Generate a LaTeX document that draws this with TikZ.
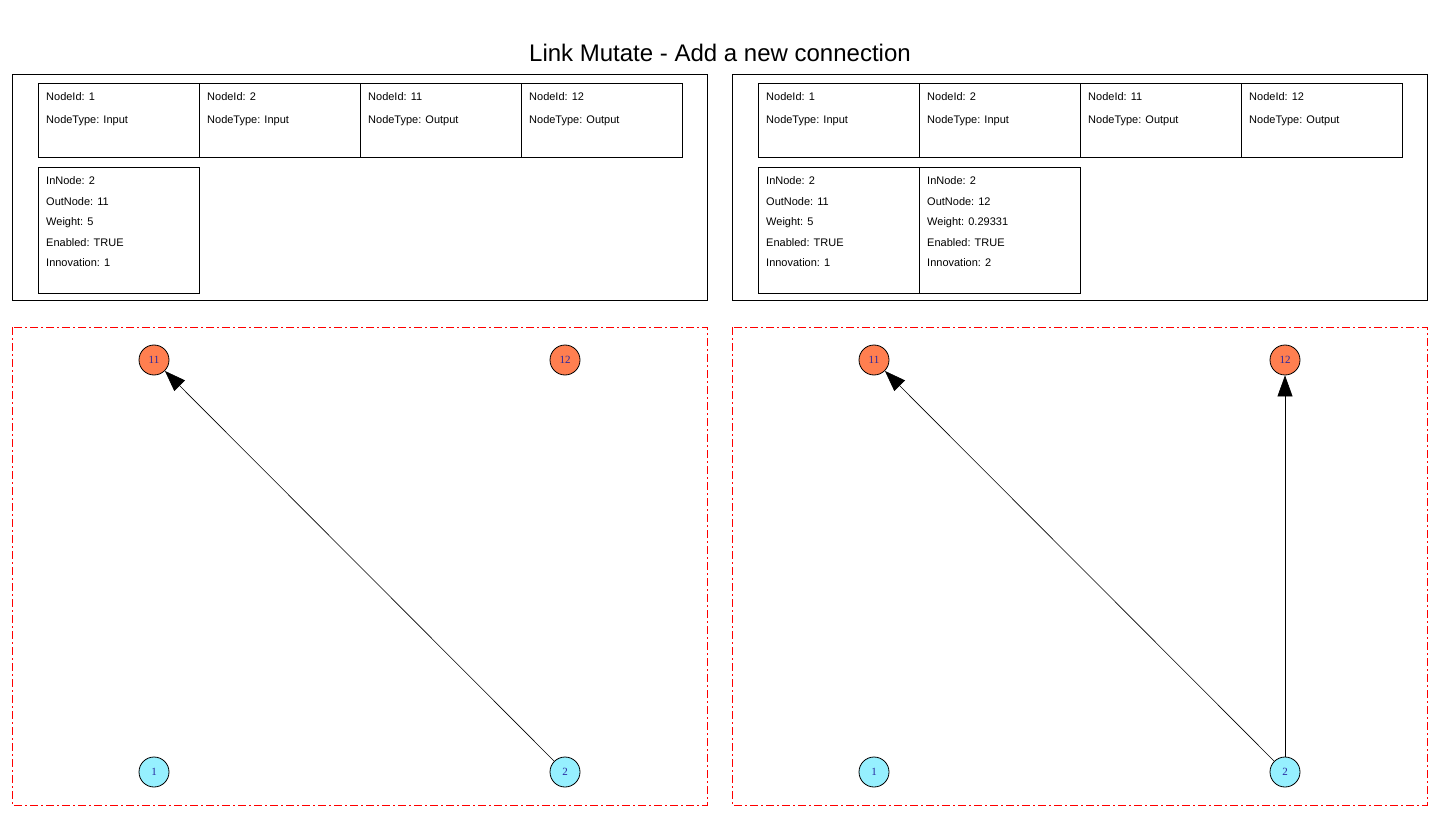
\documentclass[tikz,border=0pt]{standalone}
\usepackage{fontspec}
\setmainfont{Liberation Sans}
\newfontfamily\numfont{Liberation Serif}
\usetikzlibrary{arrows.meta,positioning,calc}
\definecolor{outcol}{RGB}{255,127,80}
\definecolor{incol}{RGB}{150,240,255}
\definecolor{numcol}{RGB}{40,40,160}
\tikzset{
  panel/.style={draw, line width=1pt},
  cell/.style={draw, line width=1pt, minimum width=161pt, minimum height=74pt, inner sep=0pt, anchor=north west},
  linkcell/.style={cell, minimum height=126pt},
  info/.style={anchor=base west, inner sep=0pt, font=\fontsize{11}{13}\selectfont},
  netbox/.style={draw=red, line width=1pt, dash pattern=on 8pt off 3pt on 2pt off 3pt},
  outnode/.style={circle, draw, line width=0.8pt, fill=outcol, minimum size=30pt, inner sep=0pt, text=numcol, font=\numfont\fontsize{11}{13}\selectfont},
  innode/.style={outnode, fill=incol},
  conn/.style={line width=0.6pt, -{Triangle[length=21pt,width=15pt]}}
}
\begin{document}
\begin{tikzpicture}[x=1pt, y=-1pt]
  \useasboundingbox (0,0) rectangle (1440,818);

  % title
  \node[font=\fontsize{24}{28}\selectfont] (title) at (720,53) {Link Mutate - Add a new connection};

  % genome panels
  \foreach \dx/\nm in {0/L, 720/R}{
    \draw[panel] (12+\dx,75) rectangle (707+\dx,301);
    \foreach \x/\id/\typ [count=\k] in {38/1/Input, 199/2/Input, 360/11/Output, 521/12/Output}{
      \node[cell] (cell\nm\k) at (\x+\dx,83) {};
      \node[info] at ($(cell\nm\k.north west)+(8,17.5)$) {NodeId: \id};
      \node[info] at ($(cell\nm\k.north west)+(8,41)$) {NodeType: \typ};
    }
    \draw[netbox] (12+\dx,327) rectangle (707+\dx,805);
  }

  % connection genes
  \foreach \nm/\k/\x/\outn/\w/\inno in {L/1/38/11/5/1, R/1/758/11/5/1, R/2/919/12/0.29331/2}{
    \node[linkcell] (link\nm\k) at (\x,167) {};
    \node[info] at ($(link\nm\k.north west)+(8,18)$) {InNode: 2};
    \node[info] at ($(link\nm\k.north west)+(8,38.5)$) {OutNode: \outn};
    \node[info] at ($(link\nm\k.north west)+(8,59)$) {Weight: \w};
    \node[info] at ($(link\nm\k.north west)+(8,79.3)$) {Enabled: TRUE};
    \node[info] at ($(link\nm\k.north west)+(8,99.7)$) {Innovation: \inno};
  }

  % networks
  \foreach \dx/\nm in {0/L, 720/R}{
    \node[outnode] (n11\nm) at (154+\dx,360) {11};
    \node[outnode] (n12\nm) at (565+\dx,360) {12};
    \node[innode] (n1\nm) at (154+\dx,772) {1};
    \node[innode] (n2\nm) at (565+\dx,772) {2};
    \draw[conn] (n2\nm) -- (n11\nm);
  }
  \draw[conn] (n2R) -- (n12R);
\end{tikzpicture}
\end{document}
